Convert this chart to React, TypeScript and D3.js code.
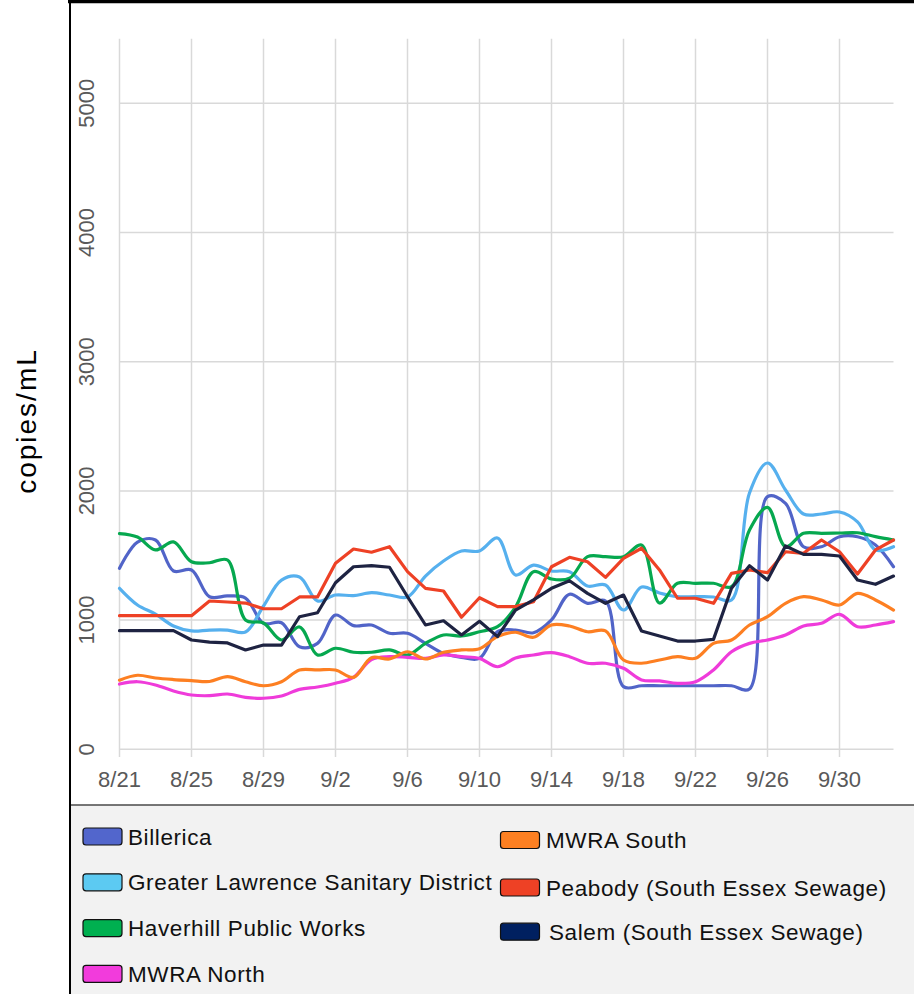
import React from "react";
import * as d3 from "d3";

// daily values, 8/21 .. 10/3
const billerica = [1401,1604,1620,1380,1388,1181,1187,1171,975,980,794,820,1039,957,962,898,898,820,743,712,704,910,923,902,1001,1200,1130,1148,485,492,492,492,492,492,492,467,1955,1904,1568,1568,1645,1645,1581,1413];
const greaterLawrence = [1246,1117,1047,954,916,923,923,908,1109,1310,1334,1148,1194,1189,1212,1194,1179,1341,1457,1535,1535,1635,1349,1426,1380,1375,1264,1272,1078,1256,1210,1181,1181,1179,1156,1984,2216,2007,1821,1821,1837,1760,1543,1568];
const haverhill = [1670,1643,1543,1605,1452,1444,1465,1001,978,846,947,730,782,751,751,769,730,820,885,877,910,949,1101,1375,1318,1324,1491,1491,1491,1581,1132,1285,1285,1285,1259,1697,1873,1568,1672,1672,1674,1676,1646,1620];
const mwraNorth = [505,523,498,451,420,415,428,402,395,413,464,482,511,557,695,717,712,704,730,717,704,639,707,730,748,717,666,666,627,537,529,511,523,614,755,820,846,885,954,975,1045,949,962,988];
const mwraSouth = [535,573,552,540,532,525,562,523,492,523,614,614,614,557,709,699,755,699,751,769,779,872,906,867,962,954,910,916,691,666,691,717,704,820,846,962,1026,1130,1181,1156,1117,1207,1156,1078];
const peabody = [1034,1034,1034,1034,1034,1148,1140,1132,1088,1088,1179,1179,1440,1550,1525,1568,1375,1246,1225,1022,1173,1104,1104,1142,1413,1486,1452,1331,1478,1556,1388,1169,1169,1130,1362,1388,1367,1529,1517,1620,1529,1357,1543,1620];
const salem = [918,918,918,918,846,830,823,769,807,807,1026,1057,1289,1413,1421,1409,1181,962,995,885,991,872,1078,1156,1246,1305,1207,1130,1194,916,877,838,838,851,1246,1421,1310,1574,1509,1509,1496,1310,1277,1341];

const xTickLabels = ["8/21","8/25","8/29","9/2","9/6","9/10","9/14","9/18","9/22","9/26","9/30"];
const yTicks = [0, 1000, 2000, 3000, 4000, 5000];

const startDate = new Date(2020, 7, 21);
const endDate = new Date(2020, 9, 3);
const days = d3.timeDay.range(startDate, d3.timeDay.offset(endDate, 1));

const series = [
  { name: "Billerica", values: billerica, color: "#5164c8", swatch: "#5266cc", smooth: true },
  { name: "Greater Lawrence Sanitary District", values: greaterLawrence, color: "#56b0ee", swatch: "#5ccaf2", smooth: true },
  { name: "Haverhill Public Works", values: haverhill, color: "#06a84f", swatch: "#00b050", smooth: true },
  { name: "MWRA North", values: mwraNorth, color: "#ef3bda", swatch: "#f23bdc", smooth: true },
  { name: "MWRA South", values: mwraSouth, color: "#fd7f22", swatch: "#fd8022", smooth: true },
  { name: "Peabody (South Essex Sewage)", values: peabody, color: "#ee4125", swatch: "#ee4125", smooth: false },
  { name: "Salem (South Essex Sewage)", values: salem, color: "#1e2342", swatch: "#002060", smooth: false },
];

const W = 914;
const H = 994;

export default function App() {
  const x = d3.scaleTime().domain([startDate, endDate]).range([119.5, 893.5]);
  const y = d3.scaleLinear().domain([0, 5500]).range([749.3, 38.7]);
  const tickDates = xTickLabels.map((_, i) => d3.timeDay.offset(startDate, i * 4));

  const lineFor = (smooth: boolean) =>
    d3.line<number>()
      .x((_, i) => x(days[i]))
      .y((v) => y(v))
      .curve(smooth ? d3.curveCatmullRom.alpha(0.5) : d3.curveLinear);

  const grid = "#d9d9d9";
  const font = "Liberation Sans, Arial, sans-serif";

  // legend: left column 4 rows, right column 3 rows
  const leftItems = series.slice(0, 4);
  const rightItems = series.slice(4);

  return (
    <svg width={W} height={H} style={{ position: "absolute", left: 0, top: 0 }} fontFamily={font}>
      <rect x={0} y={0} width={W} height={H} fill="#ffffff" />
      {/* legend panel */}
      <rect x={70} y={805} width={W - 70} height={H - 805} fill="#f2f2f2" />
      <line x1={70} x2={W} y1={805} y2={805} stroke="#4a4a4a" strokeWidth={1.5} />
      {/* frame */}
      <line x1={68} x2={W} y1={1.5} y2={1.5} stroke="#000" strokeWidth={3.5} />
      <line x1={70} x2={70} y1={0} y2={H} stroke="#000" strokeWidth={2} />

      {/* gridlines */}
      {yTicks.map((t) => (
        <line key={"h" + t} x1={119.5} x2={893.5} y1={y(t)} y2={y(t)} stroke={grid} strokeWidth={1.5} />
      ))}
      {tickDates.map((d, i) => (
        <line key={"v" + i} x1={x(d)} x2={x(d)} y1={y(5500)} y2={757} stroke={grid} strokeWidth={1.5} />
      ))}

      {/* y labels */}
      {yTicks.map((t) => (
        <text key={"yl" + t} transform={`translate(94,${y(t)}) rotate(-90)`} textAnchor="middle"
          fontSize={22} fill="#595959">{t}</text>
      ))}
      {/* x labels */}
      {tickDates.map((d, i) => (
        <text key={"xl" + i} x={x(d)} y={787} textAnchor="middle" fontSize={22} fill="#595959">
          {xTickLabels[i]}
        </text>
      ))}

      <text transform="translate(36,421) rotate(-90)" textAnchor="middle" fontSize={28}
        letterSpacing={2} fill="#000">copies/mL</text>

      {/* series */}
      {series.map((s) => (
        <path key={s.name} d={lineFor(s.smooth)(s.values) || ""} fill="none" stroke={s.color}
          strokeWidth={3.2} strokeLinejoin="round" strokeLinecap="round" />
      ))}

      {/* legend */}
      {leftItems.map((s, i) => {
        const cy = 836.5 + i * 45.8;
        return (
          <g key={"lg" + s.name}>
            <rect x={83} y={cy - 8.5} width={39} height={17} rx={3} fill={s.swatch} stroke="#111" strokeWidth={1.2} />
            <text x={128} y={cy + 8} fontSize={22.5} letterSpacing={0.6} fill="#111">{s.name}</text>
          </g>
        );
      })}
      {rightItems.map((s, i) => {
        const cy = [840, 887.5, 931.7][i];
        const tx = [546, 546, 549][i];
        return (
          <g key={"lg" + s.name}>
            <rect x={500.5} y={cy - 8.5} width={39} height={17} rx={3} fill={s.swatch} stroke="#111" strokeWidth={1.2} />
            <text x={tx} y={cy + 8} fontSize={22.5} letterSpacing={0.6} fill="#111">{s.name}</text>
          </g>
        );
      })}
    </svg>
  );
}
